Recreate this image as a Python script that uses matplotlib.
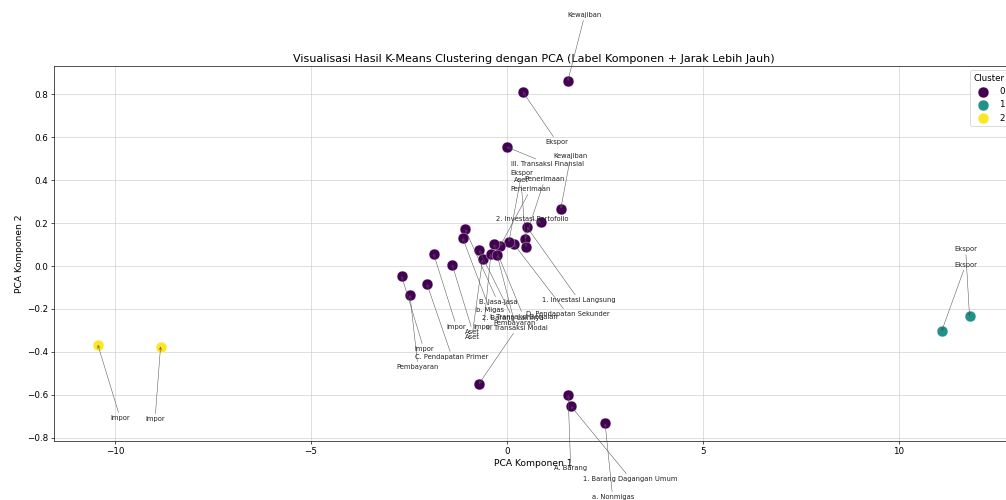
import numpy as np
import matplotlib
matplotlib.use("Agg")
import matplotlib.pyplot as plt

# PCA hasil (komponen 1, komponen 2) per baris neraca
pc1 = [1.556, 0.408, 0.0, 1.378, 0.867, 0.510, 0.467, 0.492, 0.171, 0.051,
       -0.171, -0.332, -1.064, -1.130, -0.707, -0.620, -0.408, -0.247, -1.870, -1.395,
       -2.686, -2.474, -2.041, -0.714, 1.564, 1.633, 2.508,
       11.10, 11.81, -10.44, -8.84]
pc2 = [0.863, 0.812, 0.555, 0.268, 0.203, 0.182, 0.126, 0.090, 0.104, 0.113,
       0.093, 0.101, 0.171, 0.131, 0.073, 0.031, 0.056, 0.050, 0.057, 0.006,
       -0.047, -0.135, -0.084, -0.550, -0.602, -0.653, -0.734,
       -0.303, -0.233, -0.368, -0.376]
cluster = [0]*27 + [1, 1, 2, 2]
komponen = ["Kewajiban", "Ekspor", "III. Transaksi Finansial", "Kewajiban", "2. Investasi Portofolio",
            "1. Investasi Langsung", "Penerimaan", "Aset", "D. Pendapatan Sekunder", "Ekspor",
            "Penerimaan", "I. Transaksi Berjalan", "B. Jasa-jasa", "b. Migas", "2. Barang Lainnya",
            "Aset", "Impor", "Pembayaran", "Impor", "Aset",
            "Impor", "Pembayaran", "C. Pendapatan Primer", "II. Transaksi Modal", "A. Barang",
            "1. Barang Dagangan Umum", "a. Nonmigas",
            "Ekspor", "Ekspor", "Impor", "Impor"]

# posisi label setelah digeser (layout saja)
label_pos = [(1.99, 1.171), (1.28, 0.578), (1.05, 0.476), (1.63, 0.513), (0.64, 0.219),
             (1.84, -0.159), (0.97, 0.406), (0.36, 0.401), (1.55, -0.224), (0.38, 0.434),
             (0.61, 0.359), (0.43, -0.238), (-0.23, -0.168), (-0.43, -0.205), (0.15, -0.243),
             (-0.89, -0.331), (-0.59, -0.285), (0.20, -0.266), (-1.28, -0.285), (-0.87, -0.308),
             (-2.12, -0.387), (-2.27, -0.471), (-1.40, -0.424), (0.26, -0.289), (1.63, -0.942),
             (3.16, -0.993), (2.70, -1.077),
             (11.71, 0.005), (11.71, 0.079), (-9.87, -0.709), (-8.98, -0.714)]

colors = {0: "#440154", 1: "#21918c", 2: "#fde725"}

fig = plt.figure(figsize=(1006/60, 500/60), dpi=60)
ax = fig.add_axes([54/1006, 59/500, 959/1006, 375.3/500])

pc1 = np.array(pc1); pc2 = np.array(pc2); cluster = np.array(cluster)
for c in [0, 1, 2]:
    m = cluster == c
    ax.scatter(pc1[m], pc2[m], s=170, color=colors[c], edgecolor="white", linewidth=0.4,
               label=str(c), zorder=3)

for i, name in enumerate(komponen):
    ax.annotate(name, xy=(pc1[i], pc2[i]), xytext=label_pos[i], fontsize=8.1, color="#222222",
                ha="center", va="center", zorder=4,
                arrowprops=dict(arrowstyle="->", color="#505050", lw=0.6, shrinkA=1, shrinkB=0))

ax.set_xlim(-11.56, 12.92)
ax.set_ylim(-0.816, 0.934)
ax.set_title("Visualisasi Hasil K-Means Clustering dengan PCA (Label Komponen + Jarak Lebih Jauh)",
             fontsize=13.3, pad=5)
ax.set_xlabel("PCA Komponen 1", fontsize=11)
ax.set_ylabel("PCA Komponen 2", fontsize=11)
ax.tick_params(labelsize=10.5)
ax.grid(True, color="#d0d0d0")
ax.set_axisbelow(True)
ax.legend(title="Cluster", loc="upper right", fontsize=10.5, title_fontsize=10.5)

fig.savefig("out.png", dpi=60)
